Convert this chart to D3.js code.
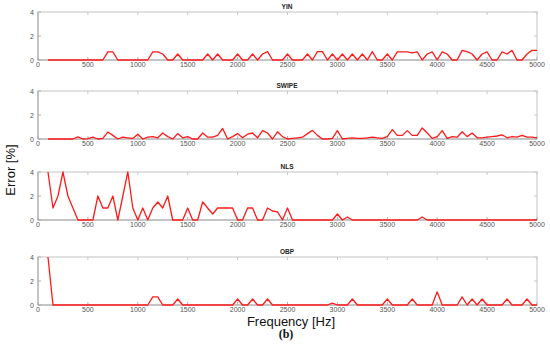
<!DOCTYPE html>
<html>
<head>
<meta charset="utf-8">
<script src="https://cdn.jsdelivr.net/npm/d3@7"></script>
<style>
  body { margin: 0; background: #fff; }
  svg { display: block; font-family: Arial, "Liberation Sans", sans-serif; }
</style>
</head>
<body>
<div class="chart"></div>
<script>
// frequency grid (Hz)
const freqs = [
  100, 150, 200, 250, 300, 350, 400, 450, 500, 550, 600, 650, 700, 750, 800, 850, 900, 950,
  1000, 1050, 1100, 1150, 1200, 1250, 1300, 1350, 1400, 1450, 1500, 1550, 1600, 1650, 1700, 1750, 1800, 1850, 1900, 1950,
  2000, 2050, 2100, 2150, 2200, 2250, 2300, 2350, 2400, 2450, 2500, 2550, 2600, 2650, 2700, 2750, 2800, 2850, 2900, 2950,
  3000, 3050, 3100, 3150, 3200, 3250, 3300, 3350, 3400, 3450, 3500, 3550, 3600, 3650, 3700, 3750, 3800, 3850, 3900, 3950,
  4000, 4050, 4100, 4150, 4200, 4250, 4300, 4350, 4400, 4450, 4500, 4550, 4600, 4650, 4700, 4750, 4800, 4850, 4900, 4950,
  5000
];

const yinErr = [
  0, 0, 0, 0, 0, 0, 0, 0, 0, 0, 0, 0, 0.67, 0.67, 0, 0, 0, 0,
  0, 0, 0, 0.67, 0.67, 0.5, 0, 0, 0.5, 0, 0, 0, 0, 0, 0.5, 0, 0.5, 0, 0, 0,
  0.5, 0, 0, 0.5, 0, 0.5, 0.7, 0, 0, 0, 0.5, 0, 0, 0, 0.5, 0, 0.7, 0.7, 0, 0.5,
  0, 0.5, 0, 0.5, 0, 0.5, 0, 0.7, 0, 0, 0.5, 0, 0.67, 0.67, 0.67, 0.6, 0.67, 0, 0.5, 0.67,
  0, 0.67, 0.5, 0, 0, 0.8, 0.7, 0.5, 0, 0.5, 0.67, 0, 0, 0.67, 0.5, 0.8, 0, 0, 0.5, 0.8,
  0.8
];

const swipeErr = [
  0, 0, 0, 0, 0, 0, 0.17, 0, 0.03, 0.15, 0, 0.05, 0.58, 0.3, 0, 0.15, 0.1, 0.05,
  0.4, 0, 0.15, 0.2, 0.1, 0.5, 0.2, 0, 0.45, 0.1, 0.2, 0, 0, 0.5, 0.15, 0.15, 0.3, 0.88, 0, 0.2,
  0.45, 0.1, 0.4, 0.5, 0.1, 0.7, 0.5, 0, 0.6, 0.2, 0, 0.05, 0.1, 0.15, 0.45, 0.72, 0.3, 0, 0, 0.05,
  0.7, 0, 0.05, 0.1, 0.05, 0.05, 0.1, 0.15, 0.1, 0.05, 0.2, 0.78, 0.3, 0.3, 0.7, 0.3, 0.3, 0.92, 0.5, 0.05,
  0.2, 0.7, 0.05, 0.2, 0.15, 0.6, 0.2, 0.5, 0.1, 0.1, 0.15, 0.2, 0.25, 0.35, 0.1, 0.2, 0.15, 0.3, 0.15, 0.15,
  0.1
];

const nlsErr = [
  4, 1, 2, 4, 2, 1, 0, 0, 0, 0, 2, 1, 1, 2, 0, 2, 4, 1,
  0, 1, 0, 1, 1.5, 1, 2, 0, 0, 0, 1, 0, 0, 1.5, 1, 0.5, 1, 1, 1, 1,
  0, 0, 1, 1, 0, 0, 1, 0.75, 0.67, 0, 1, 0, 0, 0, 0, 0, 0, 0, 0, 0,
  0.5, 0, 0.25, 0, 0, 0, 0, 0, 0, 0, 0, 0, 0, 0, 0, 0, 0, 0.25, 0, 0,
  0, 0, 0, 0, 0, 0, 0, 0, 0, 0, 0, 0, 0, 0, 0, 0, 0, 0, 0, 0,
  0
];

const obpErr = [
  4, 0, 0, 0, 0, 0, 0, 0, 0, 0, 0, 0, 0, 0, 0, 0, 0, 0,
  0, 0, 0, 0.67, 0.67, 0, 0, 0, 0.5, 0, 0, 0, 0, 0, 0, 0, 0, 0, 0, 0,
  0.5, 0, 0, 0.5, 0, 0, 0.5, 0, 0, 0, 0, 0, 0, 0, 0, 0, 0, 0, 0, 0.15,
  0, 0, 0, 0.5, 0, 0, 0, 0, 0, 0, 0.5, 0, 0, 0, 0, 0.5, 0, 0, 0, 0,
  1.1, 0, 0, 0, 0, 0.67, 0, 0.5, 0, 0.5, 0, 0, 0, 0, 0.5, 0, 0, 0, 0.5, 0,
  0
];

const titles = ["YIN", "SWIPE", "NLS", "OBP"];
const seriesList = [yinErr, swipeErr, nlsErr, obpErr];
const panelTops = [12, 91, 172, 257];
const xTicks = [0, 500, 1000, 1500, 2000, 2500, 3000, 3500, 4000, 4500, 5000];
const yTicks = [0, 2, 4];

const width = 550;
const height = 345;
const panelH = 48;

const svg = d3.select(".chart")
  .append("svg")
  .attr("width", width)
  .attr("height", height);

const x = d3.scaleLinear().domain([0, 5000]).range([38, 537]);

seriesList.forEach((vals, k) => {
  const top = panelTops[k];
  const y = d3.scaleLinear().domain([0, 4]).range([top + panelH, top]);
  const g = svg.append("g");

  // box
  g.append("rect")
    .attr("x", x(0))
    .attr("y", top)
    .attr("width", x(5000) - x(0))
    .attr("height", panelH)
    .attr("fill", "none")
    .attr("stroke", "#c4c4c4")
    .attr("stroke-width", 1);

  // inward ticks, bottom and top
  g.selectAll("line.xt")
    .data(xTicks)
    .enter()
    .append("line")
    .attr("x1", d => x(d)).attr("x2", d => x(d))
    .attr("y1", top + panelH).attr("y2", top + panelH - 3)
    .attr("stroke", "#b0b0b0");
  g.selectAll("line.xtt")
    .data(xTicks)
    .enter()
    .append("line")
    .attr("x1", d => x(d)).attr("x2", d => x(d))
    .attr("y1", top).attr("y2", top + 3)
    .attr("stroke", "#c8c8c8");
  g.selectAll("line.yt")
    .data(yTicks)
    .enter()
    .append("line")
    .attr("x1", x(0)).attr("x2", x(0) + 3)
    .attr("y1", d => y(d)).attr("y2", d => y(d))
    .attr("stroke", "#b0b0b0");
  g.selectAll("line.ytr")
    .data(yTicks)
    .enter()
    .append("line")
    .attr("x1", x(5000)).attr("x2", x(5000) - 3)
    .attr("y1", d => y(d)).attr("y2", d => y(d))
    .attr("stroke", "#c8c8c8");

  // left/bottom axis lines a bit darker
  g.append("line")
    .attr("x1", x(0)).attr("x2", x(0))
    .attr("y1", top).attr("y2", top + panelH)
    .attr("stroke", "#a8a8a8");
  g.append("line")
    .attr("x1", x(0)).attr("x2", x(5000))
    .attr("y1", top + panelH).attr("y2", top + panelH)
    .attr("stroke", "#a8a8a8");

  // tick labels
  g.selectAll("text.xl")
    .data(xTicks)
    .enter()
    .append("text")
    .attr("x", d => x(d))
    .attr("y", top + panelH + 7)
    .attr("text-anchor", "middle")
    .attr("font-size", 7)
    .attr("fill", "#555")
    .text(d => d);
  g.selectAll("text.yl")
    .data(yTicks)
    .enter()
    .append("text")
    .attr("x", x(0) - 4)
    .attr("y", d => y(d))
    .attr("dy", 2.5)
    .attr("text-anchor", "end")
    .attr("font-size", 7)
    .attr("fill", "#555")
    .text(d => d);

  // title
  g.append("text")
    .attr("x", 287)
    .attr("y", top - 3.5)
    .attr("text-anchor", "middle")
    .attr("font-size", 6.5)
    .attr("font-weight", "bold")
    .attr("fill", "#222")
    .text(titles[k]);

  const line = d3.line()
    .x((d, i) => x(freqs[i]))
    .y(d => y(d));

  g.append("path")
    .datum(vals)
    .attr("d", line)
    .attr("fill", "none")
    .attr("stroke", "#ff1a1a")
    .attr("stroke-width", 1.3)
    .attr("stroke-linejoin", "round");
});

// axis titles
svg.append("text")
  .attr("transform", "translate(15,170) rotate(-90)")
  .attr("text-anchor", "middle")
  .attr("font-size", 13)
  .attr("fill", "#111")
  .text("Error [%]");

svg.append("text")
  .attr("x", 291)
  .attr("y", 325.5)
  .attr("text-anchor", "middle")
  .attr("font-size", 13)
  .attr("fill", "#111")
  .text("Frequency [Hz]");

svg.append("text")
  .attr("x", 286)
  .attr("y", 338)
  .attr("text-anchor", "middle")
  .attr("font-size", 12)
  .attr("font-weight", "bold")
  .attr("font-family", "'Liberation Serif', 'DejaVu Serif', serif")
  .attr("fill", "#111")
  .text("(b)");
</script>
</body>
</html>
